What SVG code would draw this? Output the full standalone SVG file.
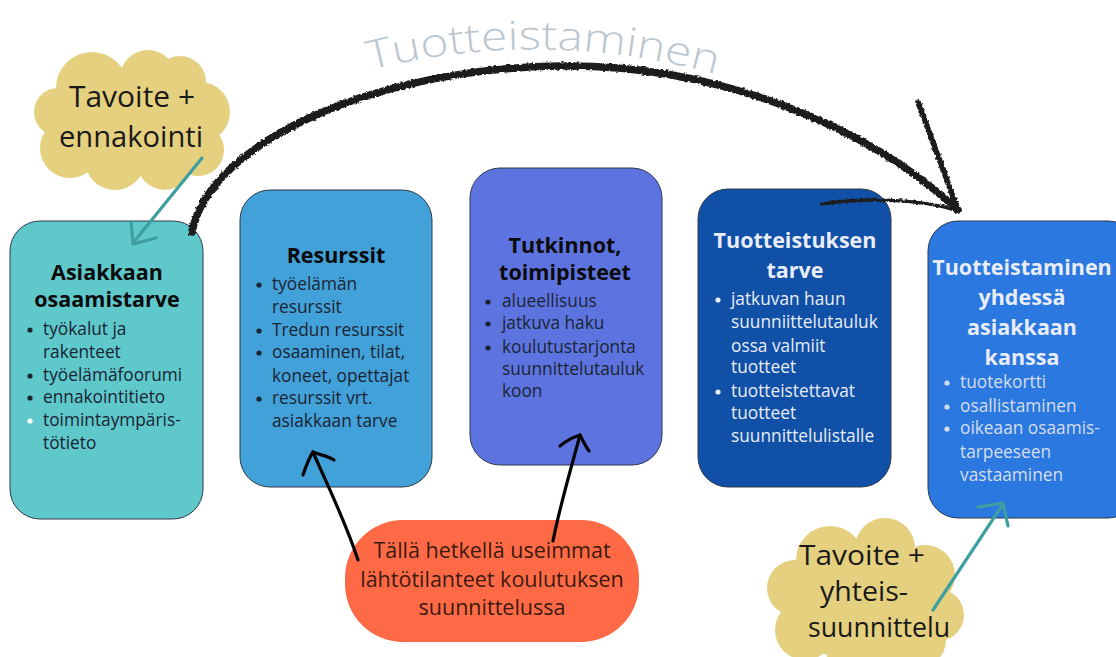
<svg xmlns="http://www.w3.org/2000/svg" width="1116" height="657" viewBox="0 0 1116 657">
  <defs>
    <style>
      .box { stroke: #2f3a48; stroke-width: 1; }
      .title { font-family: "Open Sans", "DejaVu Sans", sans-serif; font-weight: 700; font-size: 21.5px; text-anchor: middle; }
      .body { font-family: "Open Sans", "DejaVu Sans", sans-serif; font-size: 17.3px; }
      .dark { fill: #1b2433; }
      .black { fill: #0b0b0b; }
      .light { fill: #e9edf7; }
      .cloud { fill: #e4d07e; }
      .cloudtxt { font-family: "Open Sans", "Liberation Sans", sans-serif; fill: #1a1a1a; text-anchor: middle; }
      .teal { stroke: #3f9ea0; stroke-width: 3.2; fill: none; stroke-linecap: round; stroke-linejoin: round; }
      .ink { stroke: #1f1f1f; fill: none; stroke-linecap: round; stroke-linejoin: round; }
      .pen { stroke: #050505; stroke-width: 3.2; fill: none; stroke-linecap: round; stroke-linejoin: round; }
    </style>
    <filter id="rough" x="-5%" y="-20%" width="110%" height="140%">
      <feTurbulence type="fractalNoise" baseFrequency="0.35" numOctaves="2" seed="4" result="n"/>
      <feDisplacementMap in="SourceGraphic" in2="n" scale="3.5" xChannelSelector="R" yChannelSelector="G"/>
    </filter>
    <path id="arcText" d="M370,70 Q545,26 722,76"/>
  </defs>

  <rect width="1116" height="657" fill="#ffffff"/>

  <!-- curved heading -->
  <text font-family="Open Sans, DejaVu Sans, sans-serif" font-size="40" fill="#bcc7cf" font-weight="300">
    <textPath href="#arcText" textLength="350" lengthAdjust="spacingAndGlyphs">Tuotteistaminen</textPath>
  </text>

  <!-- Node 1 -->
  <g id="node-asiakkaan">
    <rect class="box" x="10" y="221" width="193" height="298" rx="30" fill="#5ec8cb"/>
    <text class="title black" x="107" y="280">Asiakkaan</text>
    <text class="title black" x="107" y="307">osaamistarve</text>
    <g class="body dark">
      <circle cx="30" cy="330" r="2.6"/>
      <text x="43" y="335">työkalut ja</text>
      <text x="43" y="358">rakenteet</text>
      <circle cx="30" cy="376" r="2.6"/>
      <text x="43" y="381">työelämäfoorumi</text>
      <circle cx="30" cy="398" r="2.6"/>
      <text x="43" y="403">ennakointitieto</text>
      <circle cx="30" cy="421" r="2.6" fill="#ffffff"/>
      <text x="43" y="426">toimintaympäris-</text>
      <text x="43" y="449">tötieto</text>
    </g>
  </g>

  <!-- Node 2 -->
  <g id="node-resurssit">
    <rect class="box" x="240" y="190" width="192" height="297" rx="30" fill="#43a1d9"/>
    <text class="title black" x="336" y="263">Resurssit</text>
    <g class="body dark">
      <circle cx="259" cy="285" r="2.6"/>
      <text x="272" y="290">työelämän</text>
      <text x="272" y="313">resurssit</text>
      <circle cx="259" cy="331" r="2.6"/>
      <text x="272" y="336">Tredun resurssit</text>
      <circle cx="259" cy="353" r="2.6"/>
      <text x="272" y="358">osaaminen, tilat,</text>
      <text x="272" y="382">koneet, opettajat</text>
      <circle cx="259" cy="399" r="2.6"/>
      <text x="272" y="404">resurssit vrt.</text>
      <text x="272" y="427">asiakkaan tarve</text>
    </g>
  </g>

  <!-- Node 3 -->
  <g id="node-tutkinnot">
    <rect class="box" x="470" y="168" width="192" height="297" rx="30" fill="#5d74e0"/>
    <text class="title black" x="565" y="253">Tutkinnot,</text>
    <text class="title black" x="565" y="280">toimipisteet</text>
    <g class="body dark">
      <circle cx="488" cy="302" r="2.6"/>
      <text x="502" y="307">alueellisuus</text>
      <circle cx="488" cy="324" r="2.6"/>
      <text x="502" y="329">jatkuva haku</text>
      <circle cx="488" cy="348" r="2.6"/>
      <text x="502" y="353">koulutustarjonta</text>
      <text x="502" y="375">suunnittelutauluk</text>
      <text x="502" y="397">koon</text>
    </g>
  </g>

  <!-- Node 4 -->
  <g id="node-tuotteistuksen">
    <rect class="box" x="698" y="189" width="193" height="298" rx="30" fill="#1050a6"/>
    <text class="title light" x="795" y="248">Tuotteistuksen</text>
    <text class="title light" x="795" y="278">tarve</text>
    <g class="body light">
      <circle cx="718" cy="300" r="2.6"/>
      <text x="731" y="305">jatkuvan haun</text>
      <text x="731" y="328">suunniittelutauluk</text>
      <text x="731" y="352">ossa valmiit</text>
      <text x="731" y="373">tuotteet</text>
      <circle cx="718" cy="392" r="2.6"/>
      <text x="731" y="397">tuotteistettavat</text>
      <text x="731" y="419">tuotteet</text>
      <text x="731" y="442">suunnittelulistalle</text>
    </g>
  </g>

  <!-- Node 5 -->
  <g id="node-yhdessa">
    <rect class="box" x="928" y="221" width="210" height="297" rx="30" fill="#2a78e0"/>
    <text class="title light" x="1022" y="275">Tuotteistaminen</text>
    <text class="title light" x="1022" y="305">yhdessä</text>
    <text class="title light" x="1022" y="335">asiakkaan</text>
    <text class="title light" x="1022" y="365">kanssa</text>
    <g class="body" fill="#d6deec">
      <circle cx="947" cy="383" r="2.6"/>
      <text x="960" y="388">tuotekortti</text>
      <circle cx="947" cy="407" r="2.6"/>
      <text x="960" y="412">osallistaminen</text>
      <circle cx="947" cy="429" r="2.6"/>
      <text x="960" y="434">oikeaan osaamis-</text>
      <text x="960" y="458">tarpeeseen</text>
      <text x="960" y="481">vastaaminen</text>
    </g>
  </g>

  <!-- Cloud: goal + foresight -->
  <g id="cloud-ennakointi">
    <g class="cloud">
      <ellipse cx="132" cy="120" rx="78" ry="52"/>
      <circle cx="92" cy="88" r="36"/>
      <circle cx="148" cy="78" r="28"/>
      <circle cx="180" cy="82" r="26"/>
      <circle cx="200" cy="112" r="30"/>
      <circle cx="198" cy="150" r="26"/>
      <circle cx="165" cy="162" r="28"/>
      <circle cx="115" cy="160" r="30"/>
      <circle cx="70" cy="148" r="30"/>
      <circle cx="58" cy="112" r="24"/>
    </g>
    <g class="cloudtxt" font-size="29">
      <text x="132" y="107" textLength="126" lengthAdjust="spacingAndGlyphs">Tavoite +</text>
      <text x="131" y="147" textLength="144" lengthAdjust="spacingAndGlyphs">ennakointi</text>
    </g>
  </g>

  <!-- Cloud: goal + co-planning -->
  <g id="cloud-yhteissuunnittelu">
    <g class="cloud">
      <ellipse cx="866" cy="600" rx="85" ry="62"/>
      <circle cx="830" cy="560" r="34"/>
      <circle cx="885" cy="548" r="30"/>
      <circle cx="925" cy="575" r="30"/>
      <circle cx="938" cy="615" r="26"/>
      <circle cx="918" cy="640" r="28"/>
      <circle cx="860" cy="648" r="34"/>
      <circle cx="805" cy="630" r="30"/>
      <circle cx="795" cy="588" r="28"/>
    </g>
    <g class="cloudtxt" font-size="26.5">
      <text x="862" y="565" textLength="126" lengthAdjust="spacingAndGlyphs">Tavoite +</text>
      <text x="864" y="601" textLength="88" lengthAdjust="spacingAndGlyphs">yhteis-</text>
      <text x="879" y="637" textLength="142" lengthAdjust="spacingAndGlyphs">suunnittelu</text>
    </g>
  </g>

  <!-- Current starting point -->
  <g id="node-lahtotilanne">
    <rect x="345" y="520" width="294" height="122" rx="58" fill="#ff6a46"/>
    <g font-family="Open Sans, DejaVu Sans, sans-serif" font-size="21.5" fill="#3a1a10" text-anchor="middle">
      <text x="492" y="558">Tällä hetkellä useimmat</text>
      <text x="492" y="587">lähtötilanteet koulutuksen</text>
      <text x="492" y="615">suunnittelussa</text>
    </g>
  </g>

  <!-- Connectors -->
  <g id="connectors">
    <!-- big sketched arc across the process -->
    <g filter="url(#rough)">
      <path class="ink" stroke-width="7.5" d="M192,232 C210,140 380,68 560,66 C720,64 870,128 958,210"/>
      <path class="ink" stroke-width="5.5" d="M918,102 L958,210"/>
      <path class="ink" stroke-width="3.5" d="M822,204 C860,198 920,198 958,211"/>
    </g>
    <!-- teal arrows from clouds -->
    <path class="teal" d="M202,158 L133,243"/>
    <path class="teal" d="M131,222 L133,244 L156,238"/>
    <path class="teal" d="M933,610 L1003,504"/>
    <path class="teal" d="M978,507 L1003,503 L1008,526"/>
    <!-- hand-drawn black arrows from the starting point -->
    <path class="pen" d="M358,560 C345,520 325,480 313,452"/>
    <path class="pen" d="M303,475 C306,466 309,458 313,452 C320,455 328,456 334,460"/>
    <path class="pen" d="M553,541 C560,505 572,465 580,435"/>
    <path class="pen" d="M560,446 C567,440 574,437 580,435 C583,441 586,447 589,451"/>
  </g>
</svg>
